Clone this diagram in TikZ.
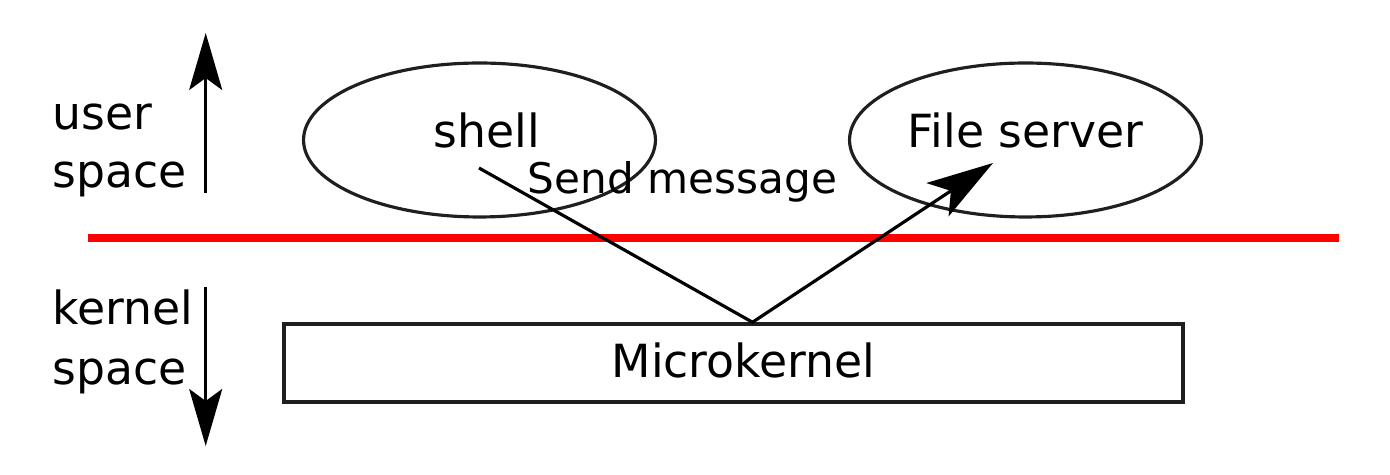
\documentclass[tikz,border=0pt]{standalone}
\usepackage{fontspec}
\setmainfont{DejaVu Sans}
\usetikzlibrary{arrows.meta}
\usetikzlibrary{shapes.geometric}

\begin{document}
\begin{tikzpicture}[x=0.02cm,y=-0.02cm,
    lbl/.style={font=\fontsize{26}{31}\selectfont,inner sep=0pt},
    proc/.style={ellipse,draw=black!88,line width=1.8pt,inner sep=0pt,minimum width=7.04cm,minimum height=3.08cm,
      font=\fontsize{26}{31}\selectfont,text height=0.7cm,text depth=0.4cm},
    bigarrow/.style={line width=1.7pt,-{Stealth[length=1.14cm,width=0.66cm,inset=0.24cm]}}]
  \useasboundingbox (0,0) rectangle (1390,475);
  % user space / kernel space
  \node[lbl,anchor=base west] (user1) at (52,130) {user};
  \node[lbl,anchor=base west] (user2) at (52,188) {space};
  \node[lbl,anchor=base west] (kern1) at (52,325) {kernel};
  \node[lbl,anchor=base west] (kern2) at (52,385) {space};
  \coordinate (upfrom) at (205.7,193);
  \coordinate (upto) at (205.7,33);
  \coordinate (downfrom) at (205.7,287);
  \coordinate (downto) at (205.7,446);
  \draw[bigarrow] (upfrom) -- (upto);
  \draw[bigarrow] (downfrom) -- (downto);
  \draw[red,line width=0.16cm] (88,238) -- (1339,238);
  % processes
  \node[proc] (shell) at (479.5,140) {\hspace*{0.3cm}shell};
  \node[proc] (fserver) at (1025.5,140) {File server};
  \node[draw=black!88,line width=2pt,minimum width=17.98cm,minimum height=1.56cm,
    font=\fontsize{26}{31}\selectfont,text height=0.7cm,text depth=0.1cm] (kernel) at (733.5,363) {\hspace*{0.4cm}Microkernel};
  % message
  \coordinate (sendfrom) at (479,168);
  \coordinate (turn) at ([xshift=0.38cm]kernel.north);
  \coordinate (recvto) at (993,163);
  \draw[line width=1.8pt,-{Stealth[length=1.33cm,width=0.8cm,inset=0.32cm]}] (sendfrom) -- (turn) -- (recvto);
  \node[font=\fontsize{24}{29}\selectfont,inner sep=0pt,anchor=base] (msg) at (682.5,194) {Send message};
\end{tikzpicture}
\end{document}
